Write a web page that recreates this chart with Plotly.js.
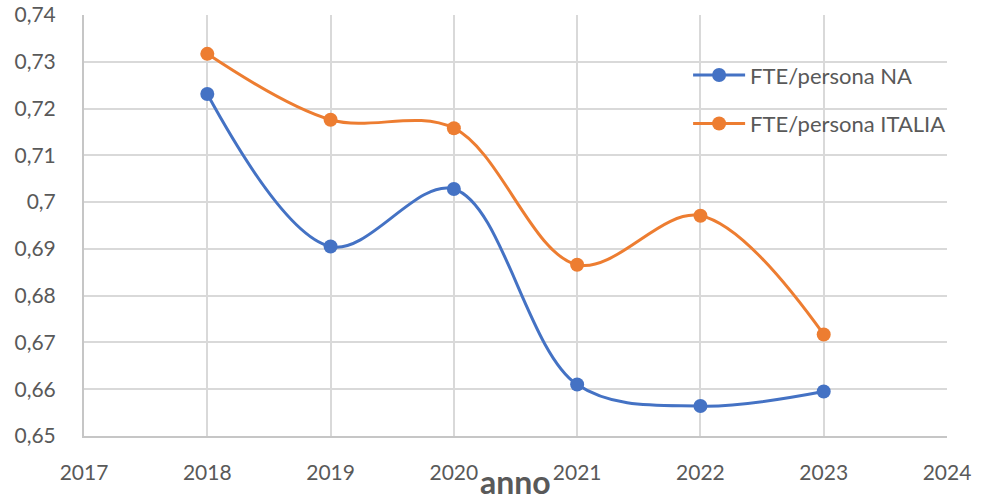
<!DOCTYPE html>
<html>
<head>
<meta charset="utf-8">
<script src="https://cdn.plot.ly/plotly-3.0.1.min.js"></script>
<style>
  html, body { margin: 0; padding: 0; background: #ffffff; }
  #chart { width: 982px; height: 504px; }
</style>
</head>
<body>
<div id="chart"></div>
<script>
// Anni di rilevazione
const anni = [2018, 2019, 2020, 2021, 2022, 2023];

// FTE per persona
const ftePersonaNA = [0.7231, 0.6905, 0.7028, 0.6610, 0.6564, 0.6595];
const ftePersonaItalia = [0.7317, 0.7176, 0.7158, 0.6866, 0.6971, 0.6717];

const nomeNA = 'FTE/persona NA';
const nomeItalia = 'FTE/persona ITALIA';
const titoloAsseX = 'anno';

const blu = '#4472C4';
const arancio = '#ED7D31';
const grigioTesto = '#595959';
const griglia = '#d9d9d9';

function serie(y, nome, colore, gruppo) {
  return {
    x: anni,
    y: y,
    name: nome,
    legendgroup: gruppo,
    type: 'scatter',
    mode: 'lines+markers',
    line: { color: colore, width: 3, shape: 'spline', smoothing: 1 },
    marker: { color: colore, size: 14 },
    hoverinfo: 'skip'
  };
}

const data = [
  serie(ftePersonaNA, nomeNA, blu, 'na'),
  serie(ftePersonaItalia, nomeItalia, arancio, 'it')
];

const famiglia = 'Lato, "Open Sans", sans-serif';

const layout = {
  width: 982,
  height: 504,
  margin: { l: 84, r: 35, t: 15, b: 68 },
  paper_bgcolor: '#ffffff',
  plot_bgcolor: '#ffffff',
  font: { family: famiglia, size: 21, color: grigioTesto },
  separators: ', ',
  showlegend: true,
  hovermode: false,
  legend: {
    x: 0.700, xanchor: 'left',
    y: 0.907, yanchor: 'top',
    bgcolor: 'rgba(0,0,0,0)',
    font: { family: famiglia, size: 22, color: grigioTesto },
    traceorder: 'grouped',
    tracegroupgap: 17,
    itemwidth: 52
  },
  // titolo dell'asse x, sotto le etichette degli anni
  annotations: [{
    text: '<b>' + titoloAsseX + '</b>',
    xref: 'paper', yref: 'paper',
    x: 0.5, y: 0,
    xanchor: 'center', yanchor: 'top',
    yshift: -24,
    showarrow: false,
    font: { family: famiglia, size: 32, color: grigioTesto }
  }],
  xaxis: {
    range: [2017, 2024],
    dtick: 1,
    tick0: 2017,
    tickformat: 'd',
    showgrid: true,
    gridcolor: griglia,
    gridwidth: 2,
    showline: true,
    linecolor: '#c6c6c6',
    linewidth: 2,
    zeroline: false,
    ticks: '',
    ticklabelstandoff: 17,
    tickfont: { family: famiglia, size: 21, color: grigioTesto }
  },
  yaxis: {
    range: [0.65, 0.74],
    dtick: 0.01,
    tick0: 0.65,
    tickformat: '.2~f',
    showgrid: true,
    gridcolor: griglia,
    gridwidth: 2,
    showline: true,
    linecolor: '#c6c6c6',
    linewidth: 2,
    zeroline: false,
    ticks: '',
    ticklabelstandoff: 22,
    tickfont: { family: famiglia, size: 21, color: grigioTesto }
  }
};

Plotly.newPlot('chart', data, layout, { displayModeBar: false, staticPlot: true });
</script>
</body>
</html>
